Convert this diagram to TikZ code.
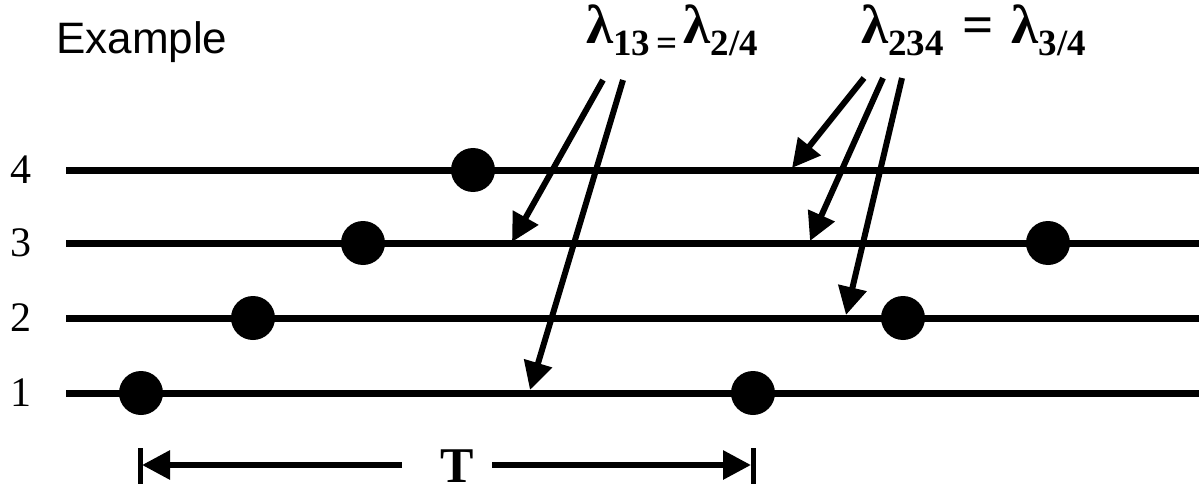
\documentclass[tikz,border=0pt]{standalone}
\usepackage{fontspec}
\setmainfont{Liberation Serif}
\newfontfamily\exfont{Liberation Sans}
\usetikzlibrary{arrows.meta}
\tikzset{
  track/.style={line width=7pt},
  ev/.style={circle,fill=black,inner sep=0pt,minimum size=44pt},
  ptr/.style={line width=6pt,-{Triangle[length=28pt,width=28pt]}},
  barline/.style={line width=5pt},
  num/.style={font=\fontsize{42}{46}\selectfont,inner sep=0pt},
  lab/.style={inner sep=0pt,anchor=base west},
}
\newcommand{\lam}{{\fontsize{55}{58}\selectfont\bfseries λ}}
\newcommand{\lsub}[1]{\raisebox{-12pt}{\fontsize{37}{40}\selectfont\bfseries #1}}
\begin{document}
\begin{tikzpicture}[x=1pt,y=-1pt]
\useasboundingbox (0,0) rectangle (1199,492);
% tracks
\foreach \n/\y in {1/393,2/318,3/243,4/170}{
  \coordinate (L\n) at (66,\y);
  \coordinate (R\n) at (1199,\y);
  \draw[track] (L\n) -- (R\n);
  \node[num] (n\n) at (21,\y) {\n};
}
% events
\node[ev] (d1a) at (141,393) {};
\node[ev] (d1b) at (753,393) {};
\node[ev] (d2a) at (253,318) {};
\node[ev] (d2b) at (903,318) {};
\node[ev] (d3a) at (363,243) {};
\node[ev] (d3b) at (1048,243) {};
\node[ev] (d4a) at (473,170) {};
% title
\node[lab,font=\exfont\fontsize{44}{48}\selectfont] (ex) at (56,54) {Example};
% labels
\node[lab] (la) at (586,44) {\lam\lsub{13\,=\,}\lam\lsub{2/4}};
\node[lab] (lb) at (861,44) {\lam\lsub{234}{\fontsize{55}{58}\selectfont\bfseries\,\,=\,\,}\lam\lsub{3/4}};
% arrows
\coordinate (sa1) at (603,80);
\coordinate (sa2) at (623,80);
\coordinate (ta1) at (512,242);
\coordinate (ta2) at (530,390);
\coordinate (sb1) at (864,78);
\coordinate (sb2) at (883,78);
\coordinate (sb3) at (902,78);
\coordinate (tb1) at (792,168);
\coordinate (tb2) at (810,241);
\coordinate (tb3) at (846,315);
\draw[ptr] (sa1) -- (ta1);
\draw[ptr] (sa2) -- (ta2);
\draw[ptr] (sb1) -- (tb1);
\draw[ptr] (sb2) -- (tb2);
\draw[ptr] (sb3) -- (tb3);
% period T
\coordinate (bl1) at (140,448);
\coordinate (bl2) at (140,484);
\coordinate (br1) at (753,448);
\coordinate (br2) at (753,484);
\draw[barline] (bl1) -- (bl2);
\draw[barline] (br1) -- (br2);
\node[inner sep=0pt,font=\fontsize{50}{54}\selectfont\bfseries] (T) at (457,466) {T};
\coordinate (al) at (402,465);
\coordinate (ar) at (492,465);
\coordinate (tl) at (142,465);
\coordinate (tr) at (751,465);
\draw[ptr] (al) -- (tl);
\draw[ptr] (ar) -- (tr);
\end{tikzpicture}
\end{document}
